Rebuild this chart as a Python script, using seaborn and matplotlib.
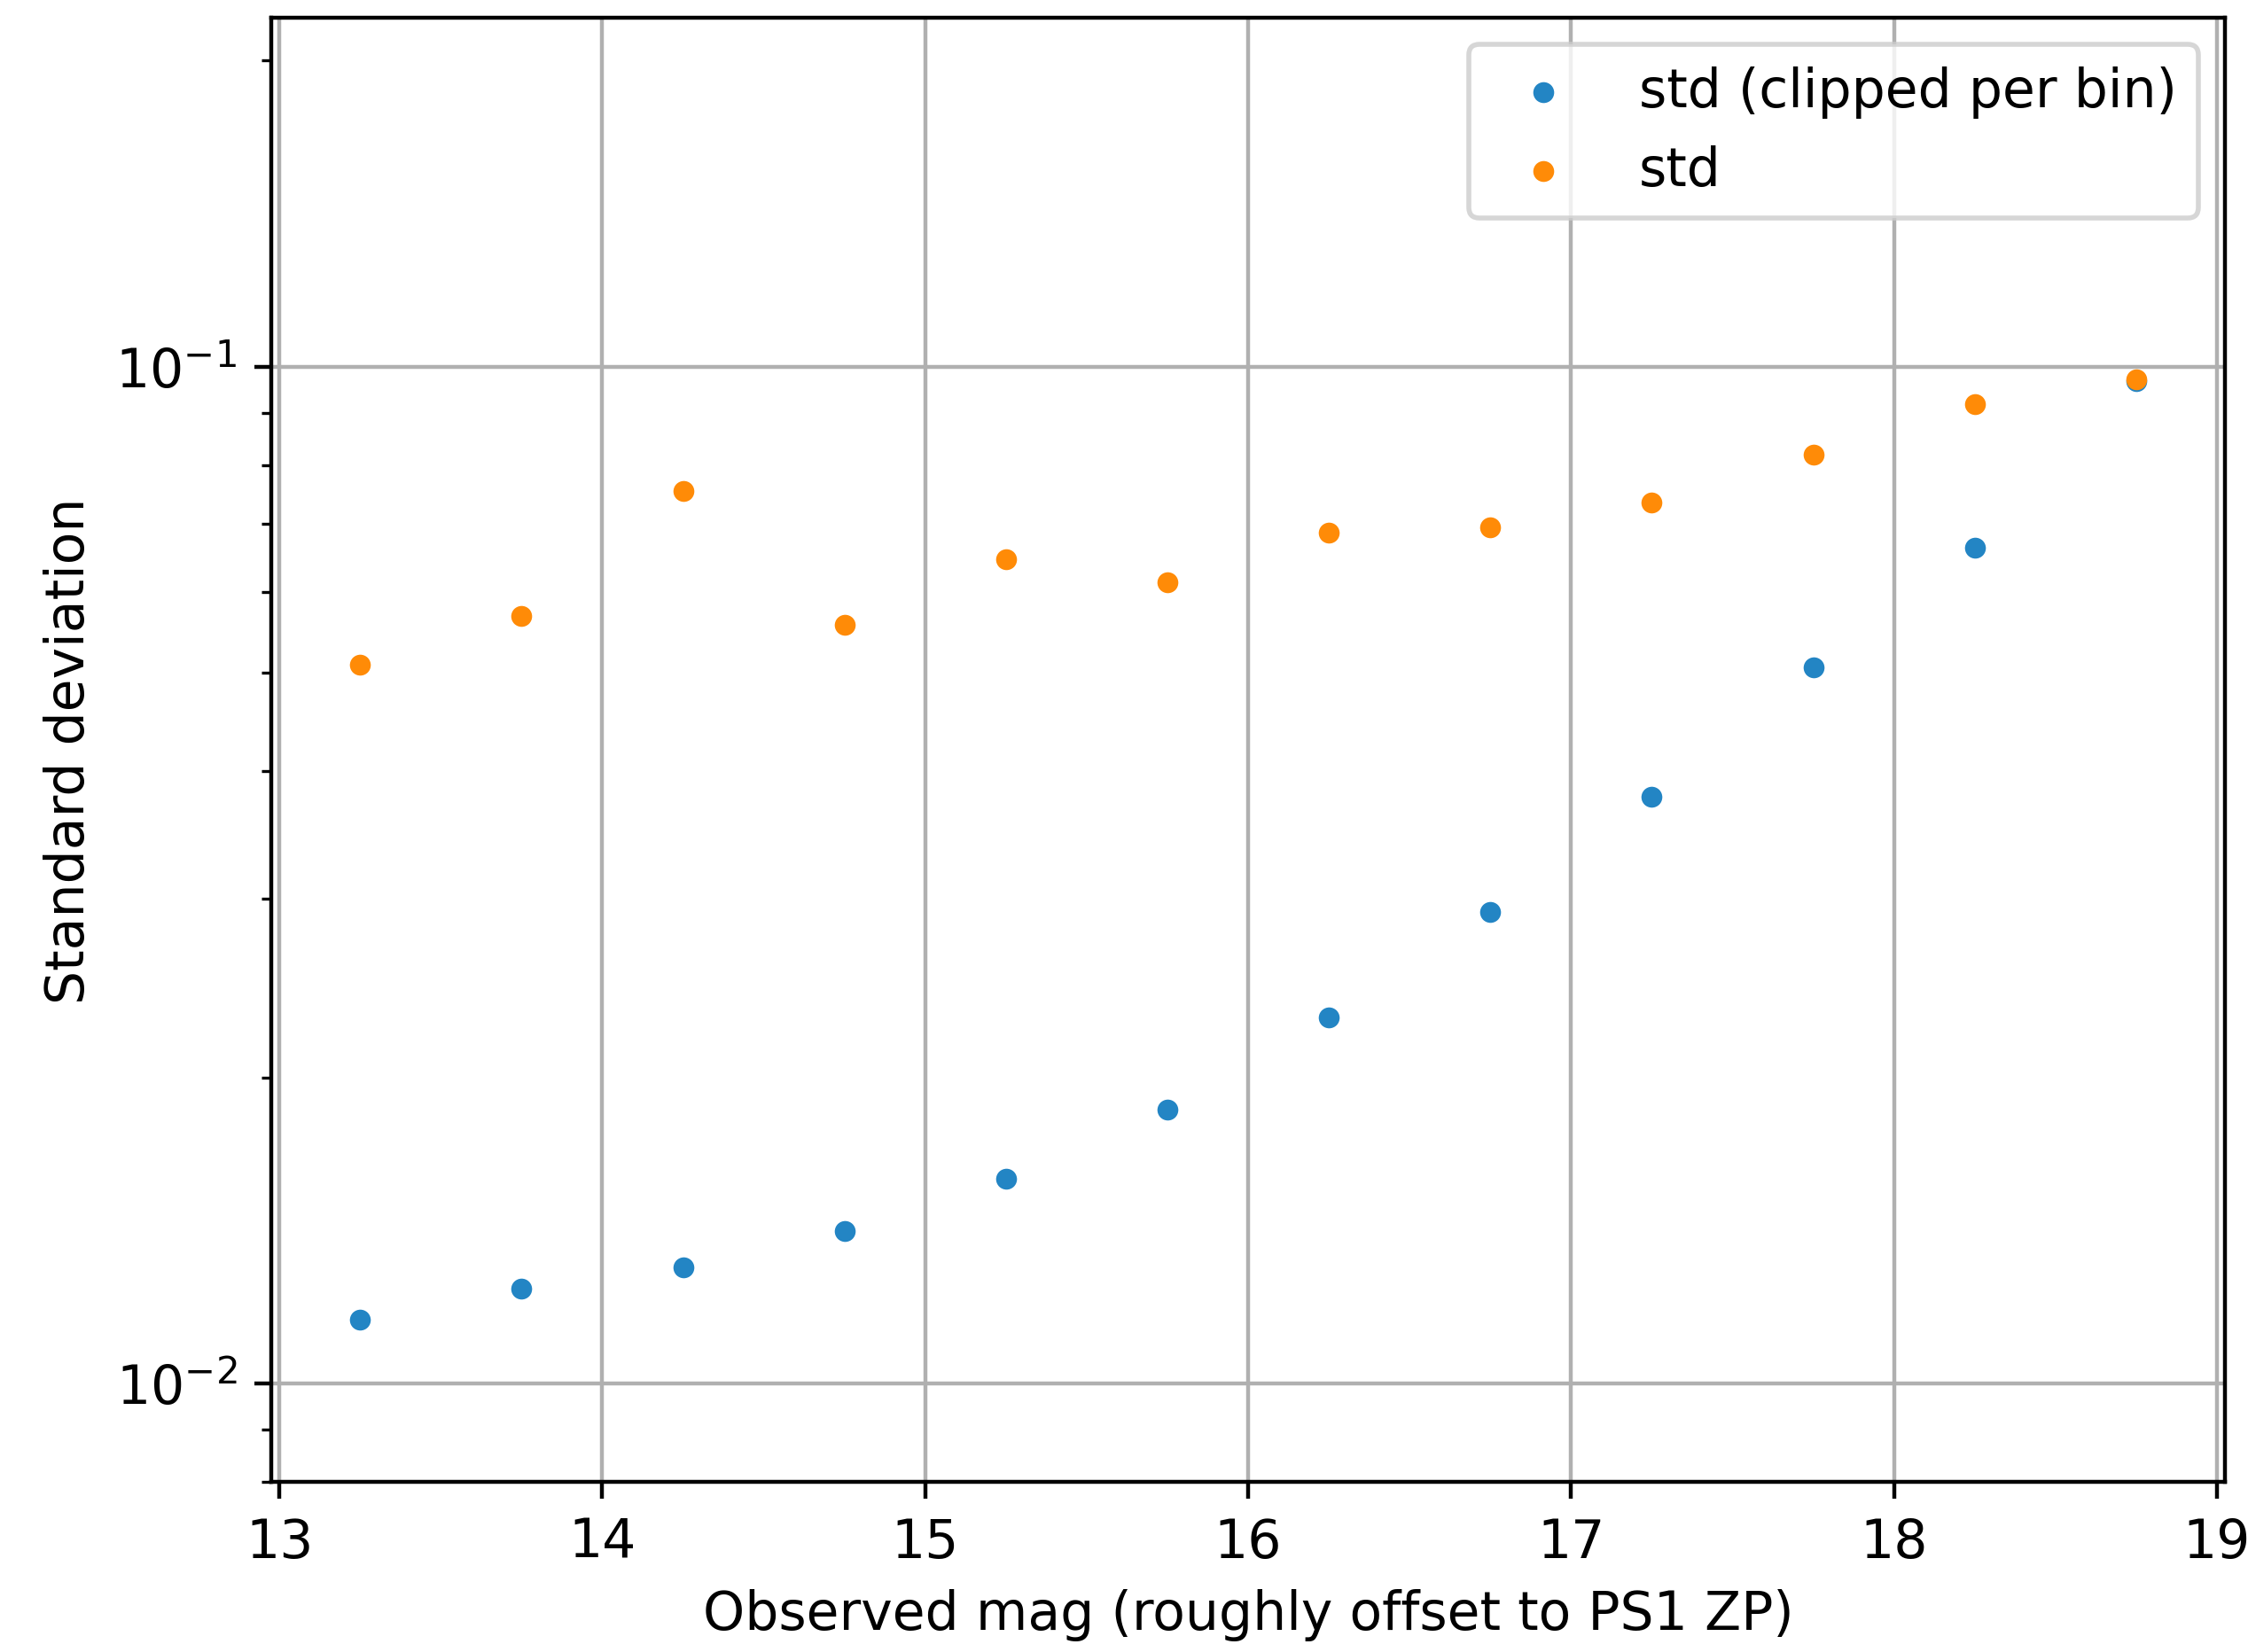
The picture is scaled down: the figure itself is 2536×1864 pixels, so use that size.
import matplotlib
matplotlib.use("Agg")
import matplotlib.pyplot as plt
import seaborn as sns
import pandas as pd

# Bin centres (observed magnitude)
mag_bins = [13.25, 13.75, 14.25, 14.75, 15.25, 15.75,
            16.25, 16.75, 17.25, 17.75, 18.25, 18.75]

# Scatter per bin, after sigma clipping inside each bin
std_clipped = [0.01154, 0.01239, 0.01300, 0.01411, 0.01590, 0.01859,
               0.02289, 0.02910, 0.03775, 0.05056, 0.06642, 0.09680]

# Raw scatter per bin
std_raw = [0.0509, 0.0568, 0.0754, 0.0557, 0.0647, 0.0614,
           0.0686, 0.0695, 0.0735, 0.0820, 0.0919, 0.0971]

labels = ["std (clipped per bin)", "std"]
colors = ["#2385c4", "#ff8b07"]

plt.rcParams["font.size"] = 10.8
plt.rcParams["font.family"] = ["DejaVu Sans"]

df_clip = pd.DataFrame({"mag": mag_bins, "std": std_clipped})
df_raw = pd.DataFrame({"mag": mag_bins, "std": std_raw})

fig, ax = plt.subplots(figsize=(6.34, 4.6625), dpi=400)
fig.subplots_adjust(left=0.1207, right=0.98975, top=0.98874, bottom=0.10295)

sns.scatterplot(data=df_clip, x="mag", y="std", ax=ax, color=colors[0],
                s=18, linewidth=0, label=labels[0], zorder=3)
sns.scatterplot(data=df_raw, x="mag", y="std", ax=ax, color=colors[1],
                s=18, linewidth=0, label=labels[1], zorder=3)

ax.set_yscale("log")
ax.set_ylim(0.0080, 0.2204)
ax.grid(True, which="major", color="#b0b0b0", linewidth=0.8)
ax.set_axisbelow(True)

ax.set_xlabel("Observed mag (roughly offset to PS1 ZP)")
ax.set_ylabel("Standard deviation")
ax.legend(loc="upper right")

fig.savefig("out.png", dpi=400)
